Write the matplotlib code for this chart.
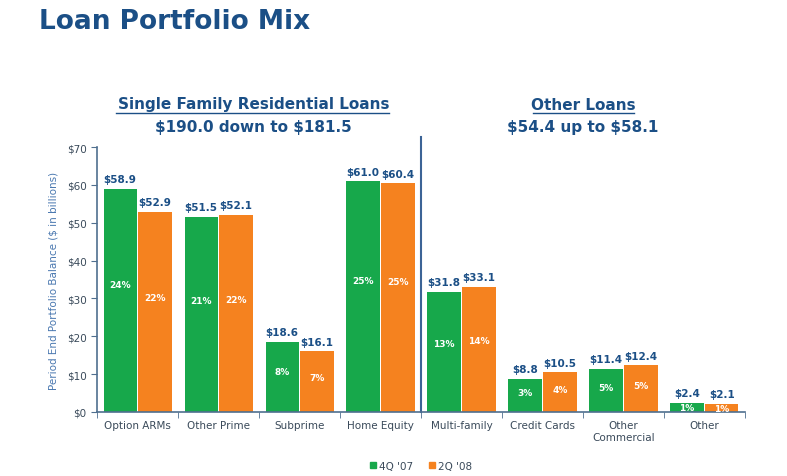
import numpy as np
import matplotlib.pyplot as plt
from matplotlib.patches import Patch

categories = ['Option ARMs', 'Other Prime', 'Subprime', 'Home Equity',
              'Multi-family', 'Credit Cards', 'Other\nCommercial', 'Other']
q4_07 = [58.9, 51.5, 18.6, 61.0, 31.8, 8.8, 11.4, 2.4]
q2_08 = [52.9, 52.1, 16.1, 60.4, 33.1, 10.5, 12.4, 2.1]
pct_q4_07 = ['24%', '21%', '8%', '25%', '13%', '3%', '5%', '1%']
pct_q2_08 = ['22%', '22%', '7%', '25%', '14%', '4%', '5%', '1%']
y_ticks = [0, 10, 20, 30, 40, 50, 60, 70]

green = '#17a84b'
orange = '#f5821f'
navy = '#1b4f86'
axis_c = '#4f6f8f'

plt.rcParams['font.family'] = ['DejaVu Sans']

fig = plt.figure(figsize=(7.87, 4.77), dpi=100)
ax = fig.add_axes([0.1233, 0.1342, 0.8233, 0.5555])

x = np.arange(len(categories))
w = 0.41
off = 0.215
ax.bar(x - off, q4_07, w, color=green, label="4Q '07")
ax.bar(x + off, q2_08, w, color=orange, label="2Q '08")

for i in range(len(categories)):
    for xx, v, p in [(x[i] - off, q4_07[i], pct_q4_07[i]), (x[i] + off, q2_08[i], pct_q2_08[i])]:
        ax.text(xx, v + 1.2, '$%.1f' % v, ha='center', va='bottom',
                fontsize=7.5, fontweight='bold', color=navy, parse_math=False)
        ypos = v * 0.57 if v > 5 else v / 2
        ax.text(xx, ypos, p, ha='center', va='center', fontsize=6.5,
                fontweight='bold', color='white')

ax.set_xlim(-0.5, 7.5)
ax.set_ylim(0, 70)
ax.set_yticks(y_ticks)
ax.set_yticklabels(['$%d' % t for t in y_ticks])
ax.set_xticks(x)
ax.set_xticklabels(categories)
ax.set_xticks(np.arange(-0.5, 8, 1), minor=True)
ax.tick_params(axis='x', which='major', length=0, pad=6, labelsize=7.5, labelcolor='#3a4a5a')
ax.tick_params(axis='x', which='minor', length=4, color=axis_c, direction='out')
ax.tick_params(axis='y', length=4, color=axis_c, labelsize=7.5, labelcolor='#3a4a5a')
for s in ['top', 'right']:
    ax.spines[s].set_visible(False)
for s in ['left', 'bottom']:
    ax.spines[s].set_color(axis_c)
    ax.spines[s].set_linewidth(1.2)

ax.set_ylabel('Period End Portfolio Balance ($ in billions)', fontsize=7.5,
              color='#4a78b0', labelpad=6)

# divider between the two loan groups
ax.plot([3.5, 3.5], [0, 72.6], color='#3c6496', lw=1.5, clip_on=False)

fig.text(0.05, 0.953, 'Loan Portfolio Mix', fontsize=19, fontweight='bold',
         color=navy, ha='left', va='center')
fig.text(0.322, 0.78, 'Single Family Residential Loans', fontsize=11,
         fontweight='bold', color=navy, ha='center', va='center')
fig.add_artist(plt.Line2D([0.148, 0.494], [0.762, 0.762], color=navy, lw=1))
fig.text(0.322, 0.733, '$190.0 down to $181.5', fontsize=11,
         fontweight='bold', color=navy, ha='center', va='center', parse_math=False)
fig.text(0.741, 0.778, 'Other Loans', fontsize=11,
         fontweight='bold', color=navy, ha='center', va='center')
fig.add_artist(plt.Line2D([0.677, 0.805], [0.760, 0.760], color=navy, lw=1))
fig.text(0.741, 0.733, '$54.4 up to $58.1', fontsize=11,
         fontweight='bold', color=navy, ha='center', va='center', parse_math=False)

handles = [Patch(color=green, label="4Q '07"), Patch(color=orange, label="2Q '08")]
fig.legend(handles=handles, loc='center', bbox_to_anchor=(0.535, 0.022),
           ncol=2, frameon=False, fontsize=7.5, handlelength=0.6,
           handleheight=0.6, handletextpad=0.3, columnspacing=1.5,
           labelcolor='#3a4a5a')

fig.savefig('out.png', dpi=100)
